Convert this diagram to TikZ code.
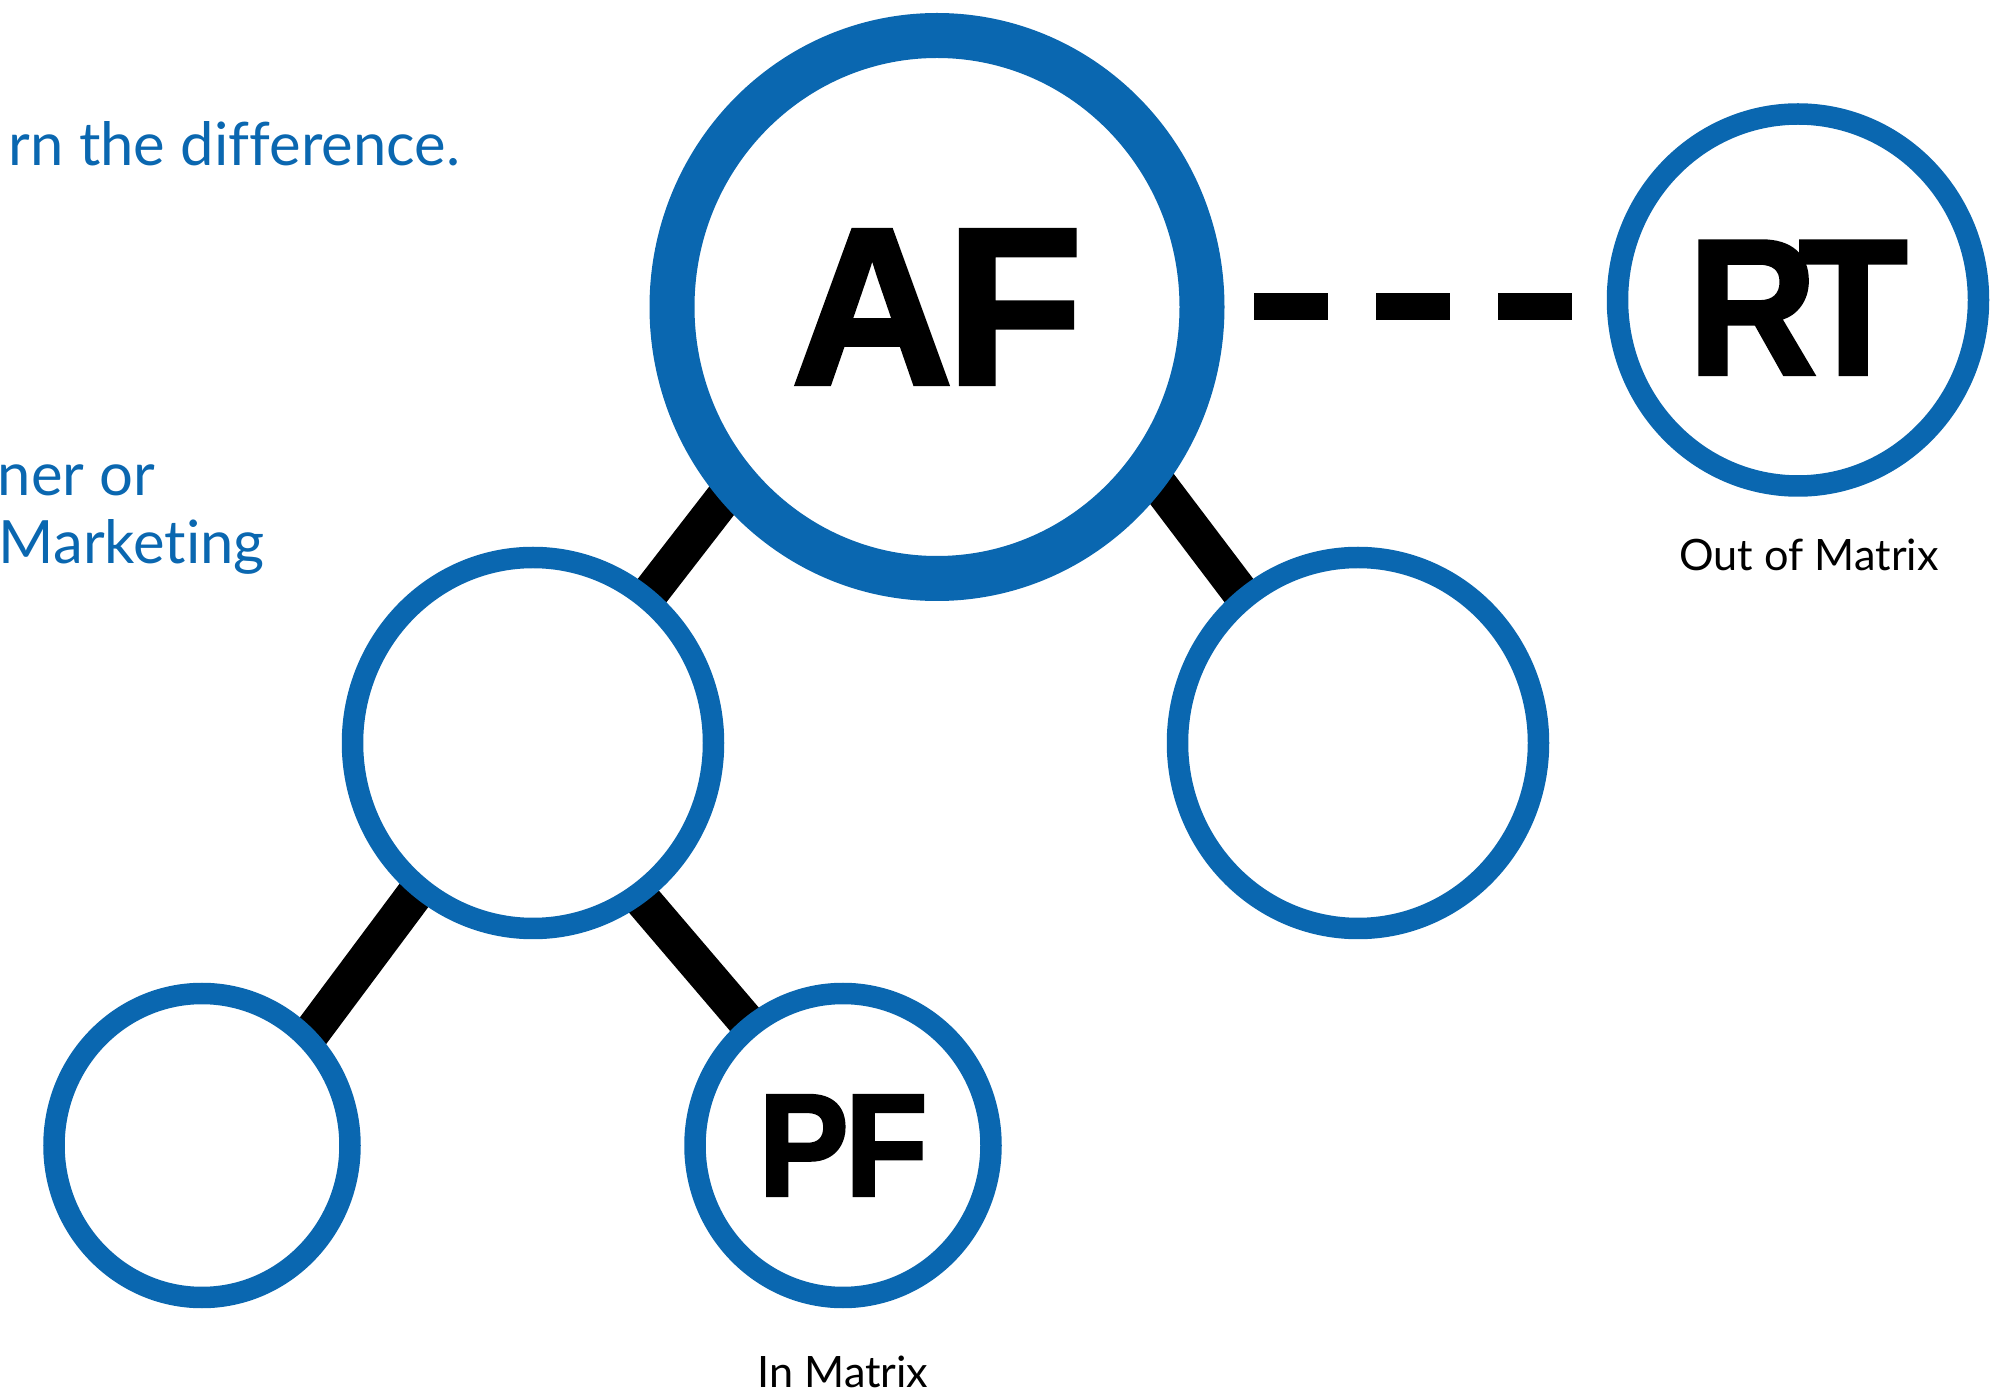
\documentclass[tikz,border=0pt]{standalone}
\usepackage{fontspec}
\setmainfont{Lato}[Ligatures=NoCommon]
\newfontface\heavyfont{Liberation Sans Bold}[RawFeature={embolden=2}]
\usetikzlibrary{positioning, shapes.geometric}
\pgfdeclarelayer{background}
\pgfsetlayers{background,main}
\definecolor{matblue}{RGB}{10,103,176}
\tikzset{
    ring/.style={ellipse, draw=matblue, fill=white, line width=0.215cm, outer sep=0.1075cm, inner sep=0pt},
    bigring/.style={ring, line width=0.45cm, outer sep=0.225cm},
    bar/.style={line width=0.37cm, shorten <=-0.3cm, shorten >=-0.3cm},
    link/.style={line width=0.27cm, dash pattern=on 0.74cm off 0.48cm},
    bluetext/.style={text=matblue, anchor=base west, inner sep=0pt, font=\fontsize{17pt}{20pt}\selectfont},
    caption/.style={inner sep=0pt, font=\fontsize{12.3pt}{14pt}\selectfont},
}

\begin{document}
\begin{tikzpicture}
    \useasboundingbox (0,0) rectangle (20.08,-13.92);

    \node[bluetext] (diff) at (0.08,-1.66) {rn the difference.};
    \node[bluetext] (ner) at (-0.03,-4.96) {ner or};
    \node[bluetext] (mkt) at (-0.02,-5.64) {Marketing};

    \node[bigring, minimum width=5.30cm, minimum height=5.43cm, font=\heavyfont\fontsize{63.5pt}{64pt}\selectfont] (af) at (9.37,-3.07) {A\kern-0.03em F};
    \node[ring, minimum width=3.61cm, minimum height=3.72cm, font=\heavyfont\fontsize{55pt}{56pt}\selectfont] (rt) at (17.98,-3.00) {\raisebox{-0.077cm}[\height][0pt]{\scalebox{0.92}[1]{R\kern-0.1em T}}};
    \node[ring, minimum width=3.61cm, minimum height=3.71cm] (ml) at (5.33,-7.43) {};
    \node[ring, minimum width=3.61cm, minimum height=3.71cm] (mr) at (13.58,-7.43) {};
    \node[ring, minimum width=2.96cm, minimum height=3.04cm] (bl) at (2.02,-11.455) {};
    \node[ring, minimum width=2.96cm, minimum height=3.04cm, font=\heavyfont\fontsize{41.5pt}{42pt}\selectfont] (pf) at (8.43,-11.455) {\scalebox{0.93}[1]{P\kern-0.03em F}};

    \node[caption, below=0.42cm of rt, xshift=0.11cm] (outm) {Out of Matrix};
    \node[caption, below=0.47cm of pf] (inm) {In Matrix};

    \begin{pgfonlayer}{background}
        \draw[bar] (ml.52) -- (af.222);
        \draw[bar] (mr.128) -- (af.321);
        \draw[bar] (ml.232) -- (bl.46);
        \draw[bar] (ml.305) -- (pf.128);
    \end{pgfonlayer}

    \draw[link, shorten <=0.295cm, shorten >=0.346cm] (af.east) -- (af.east -| rt.west);
\end{tikzpicture}
\end{document}
